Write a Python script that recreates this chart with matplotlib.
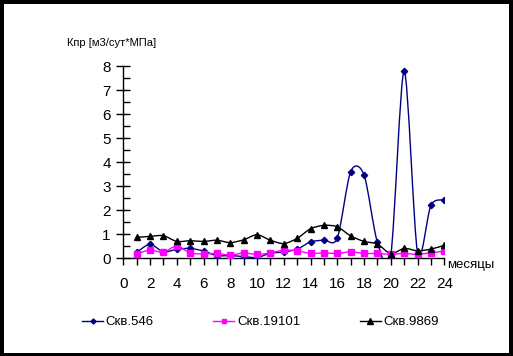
import numpy as np
import matplotlib.pyplot as plt
from matplotlib.path import Path
from matplotlib.patches import PathPatch, Rectangle
from matplotlib.lines import Line2D

plt.rcParams['font.family'] = ['Liberation Sans Narrow', 'Liberation Sans', 'DejaVu Sans']

months = list(range(1, 25))
skv546 = [0.24, 0.57, 0.26, 0.36, 0.40, 0.29, 0.10, 0.10, 0.06, 0.02, 0.20, 0.25,
          0.37, 0.67, 0.75, 0.83, 3.60, 3.46, 0.65, 0.12, 7.79, 0.22, 2.20, 2.42]
skv19101 = [0.17, 0.33, 0.24, 0.50, 0.21, 0.17, 0.19, 0.12, 0.21, 0.15, 0.21, 0.33,
            0.30, 0.19, 0.21, 0.19, 0.26, 0.19, 0.19, 0.15, 0.19, 0.15, 0.22, 0.28]
skv9869 = [0.86, 0.90, 0.93, 0.69, 0.72, 0.69, 0.74, 0.64, 0.76, 0.97, 0.74, 0.60,
           0.82, 1.22, 1.36, 1.30, 0.92, 0.69, 0.58, 0.18, 0.40, 0.30, 0.37, 0.53]
labels = ['Скв.546', 'Скв.19101', 'Скв.9869']


def smooth_path(x, y, k=7.0):
    # excel-like smoothed line: cubic bezier through every point
    p = np.column_stack([x, y]).astype(float)
    verts = [p[0]]
    codes = [Path.MOVETO]
    n = len(p)
    for i in range(n - 1):
        p0 = p[i - 1] if i > 0 else p[i]
        p3 = p[i + 2] if i + 2 < n else p[i + 1]
        c1 = p[i] + (p[i + 1] - p0) / k
        c2 = p[i + 1] - (p3 - p[i]) / k
        verts += [c1, c2, p[i + 1]]
        codes += [Path.CURVE4] * 3
    return Path(verts, codes)


fig = plt.figure(figsize=(5.13, 3.56), dpi=100)
fig.patch.set_facecolor('black')
fig.patches.append(Rectangle((4 / 513, 3.5 / 356), 505 / 513, 348.5 / 356,
                             transform=fig.transFigure, facecolor='white',
                             edgecolor='none', zorder=-10))

ax = fig.add_axes([123.3 / 513, 98 / 356, 321 / 513, 192 / 356])
ax.set_facecolor('none')

styles = [('#000080', 'D', 3.2), ('#FF00FF', 's', 4.2), ('black', '^', 5)]
handles = []
for vals, (c, m, ms), lab in zip([skv546, skv19101, skv9869], styles, labels):
    ax.add_patch(PathPatch(smooth_path(months, vals), facecolor='none',
                           edgecolor=c, lw=1.0, zorder=2))
    ax.plot(months, vals, ls='none', marker=m, color=c, ms=ms, zorder=3)
    handles.append(Line2D([], [], color=c, lw=1.0, marker=m, ms=ms * 0.8))

ax.set_xlim(0, 24)
ax.set_ylim(0, 8)
ax.spines['top'].set_visible(False)
ax.spines['right'].set_visible(False)
ax.spines['left'].set_linewidth(1)
ax.spines['bottom'].set_linewidth(1)

ax.set_yticks(range(0, 9))
ax.set_yticks(np.arange(0.5, 8, 1), minor=True)
ax.tick_params(axis='y', which='major', direction='inout', length=10, width=1,
               labelsize=11, pad=4)
ax.tick_params(axis='y', which='minor', direction='in', length=5, width=1)
ax.set_xticks(range(0, 25, 2))
ax.set_xticks(range(1, 25, 2), minor=True)
ax.tick_params(axis='x', which='both', direction='out', length=5, width=1)
ax.tick_params(axis='x', which='major', labelsize=11, pad=9)

fig.text(67 / 513, 1 - 43 / 356, 'Кпр [м3/сут*МПа]', fontsize=8,
         ha='left', va='center')
fig.text(447 / 513, 1 - 265 / 356, 'месяцы', fontsize=9.5, ha='left', va='center')

fig.legend(handles, labels, loc='center left', bbox_to_anchor=(82 / 513, 1 - 322 / 356),
           ncol=3, frameon=False, fontsize=9.5, handlelength=1.6,
           handletextpad=0.2, columnspacing=4.5, borderaxespad=0, borderpad=0)

fig.savefig('out.png', dpi=100, facecolor=fig.get_facecolor())
